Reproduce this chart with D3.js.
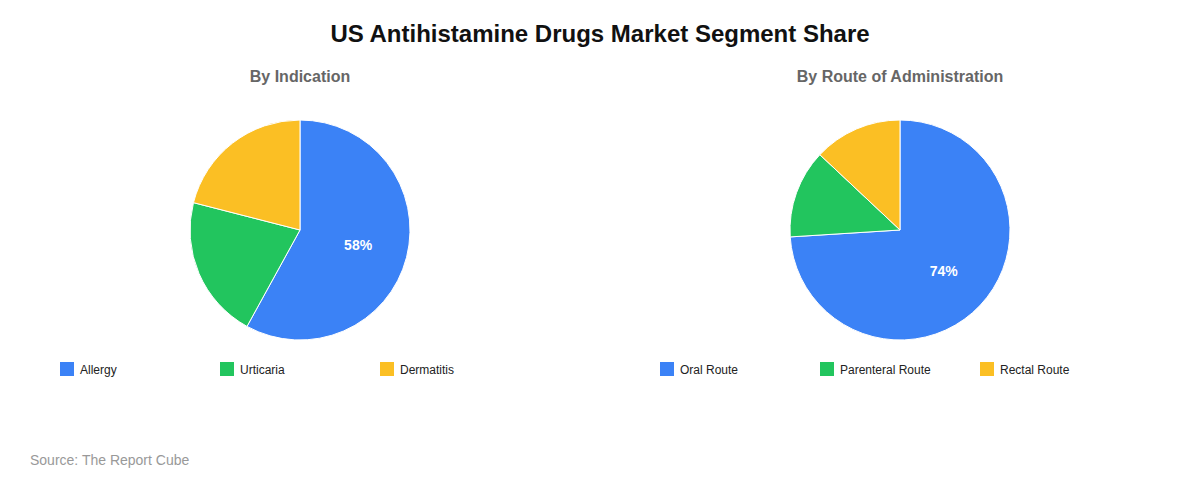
<!DOCTYPE html>
<html><head><meta charset="utf-8">
<script src="https://cdn.jsdelivr.net/npm/d3@7"></script>
<style>body{margin:0;background:#fff;font-family:"Liberation Sans",Arial,sans-serif}</style>
</head><body><svg id="c" width="1200" height="480"></svg>
<script>
const indicationLabels = ["Allergy","Urticaria","Dermatitis"];
const indicationValues = [58,21,21];
const routeLabels = ["Oral Route","Parenteral Route","Rectal Route"];
const routeValues = [74,13,13];
const colors = ["#3b82f6","#22c55e","#fbbf24"];

const svg = d3.select("#c");
svg.append("text").attr("x",600).attr("y",42).attr("text-anchor","middle")
  .attr("font-size",24).attr("font-weight","bold").attr("fill","#111")
  .text("US Antihistamine Drugs Market Segment Share");
svg.append("text").attr("x",30).attr("y",465).attr("font-size",14).attr("fill","#999")
  .text("Source: The Report Cube");

function drawPie(cx, title, labels, values, legendX){
  svg.append("text").attr("x",cx).attr("y",82).attr("text-anchor","middle")
    .attr("font-size",16).attr("font-weight","bold").attr("fill","#666").text(title);
  const data = labels.map((l,i)=>({label:l,value:values[i]}));
  const pie = d3.pie().value(d=>d.value).sort(null);
  const arc = d3.arc().innerRadius(0).outerRadius(110);
  const lab = d3.arc().innerRadius(60).outerRadius(60);
  const g = svg.append("g").attr("transform",`translate(${cx},230)`);
  const arcs = pie(data);
  g.selectAll("path").data(arcs).join("path").attr("d",arc)
    .attr("fill",(d,i)=>colors[i]).attr("stroke","#fff").attr("stroke-width",1);
  const total = d3.sum(values);
  g.selectAll("text").data(arcs.filter(d=>d.data.value/total>0.3)).join("text")
    .attr("transform",d=>`translate(${lab.centroid(d)})`).attr("text-anchor","middle")
    .attr("dy","0.35em").attr("font-size",14).attr("font-weight","bold").attr("fill","#fff")
    .text(d=>Math.round(d.data.value/total*100)+"%");
  const lg = svg.append("g");
  labels.forEach((l,i)=>{
    const x = legendX + i*160;
    lg.append("rect").attr("x",x).attr("y",362).attr("width",14).attr("height",14).attr("fill",colors[i]);
    lg.append("text").attr("x",x+20).attr("y",374).attr("font-size",12).attr("fill","#222").text(l);
  });
}
drawPie(300,"By Indication",indicationLabels,indicationValues,60);
drawPie(900,"By Route of Administration",routeLabels,routeValues,660);
</script></body></html>
